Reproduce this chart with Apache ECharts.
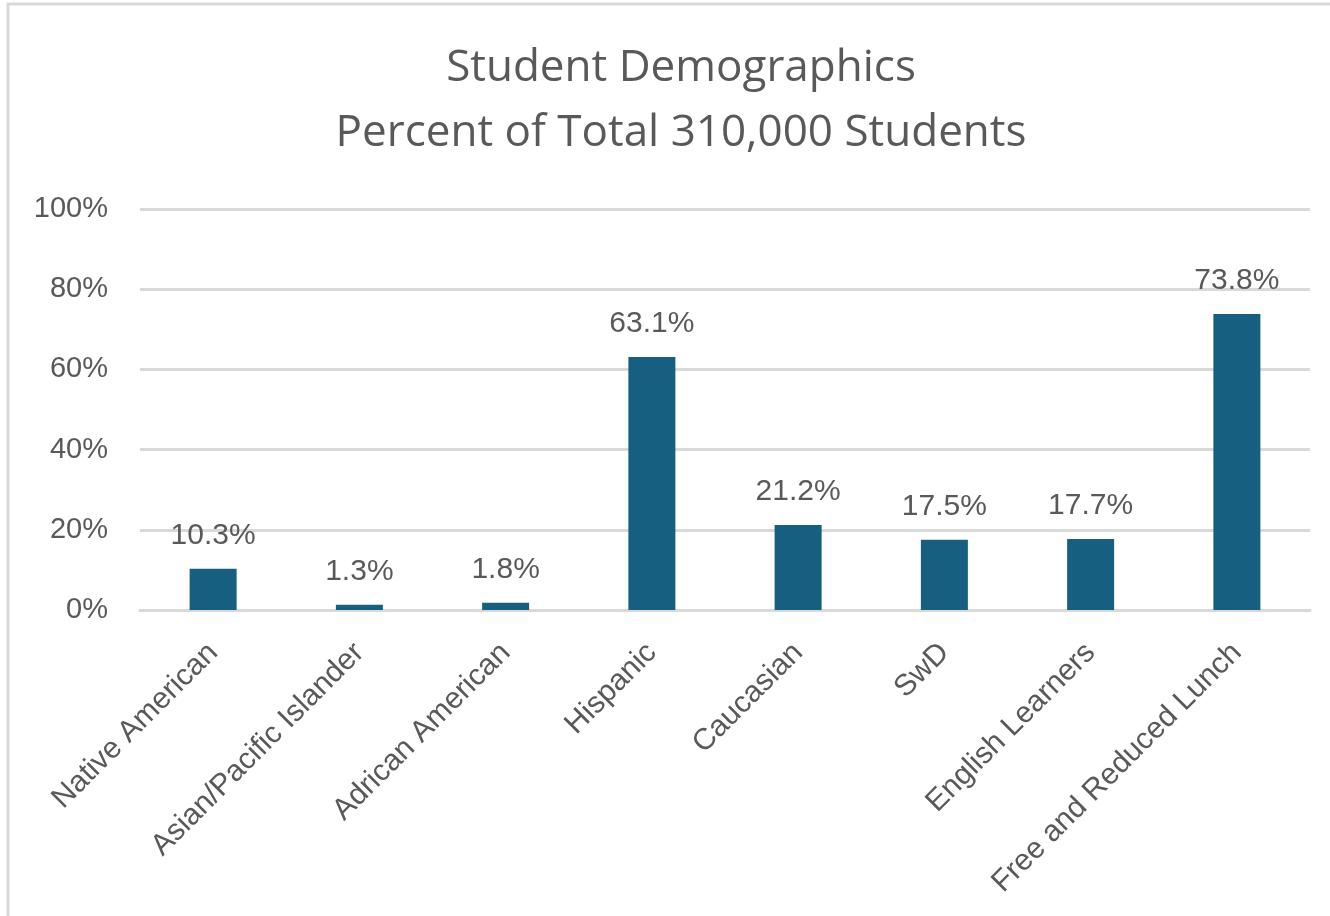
<!DOCTYPE html>
<html>
<head>
<meta charset="utf-8">
<script src="https://cdn.jsdelivr.net/npm/echarts@6/dist/echarts.min.js"></script>
<style>
html,body{margin:0;padding:0;background:#fff;}
#c{width:1330px;height:916px;}
</style>
</head>
<body>
<div id="c"></div>
<script>
var categories = ["Native American","Asian/Pacific Islander","Adrican American","Hispanic","Caucasian","SwD","English Learners","Free and Reduced Lunch"];
var values = [10.3, 1.3, 1.8, 63.1, 21.2, 17.5, 17.7, 73.8];
var titleLines = ["Student Demographics","Percent of Total 310,000 Students"];

var chart = echarts.init(document.getElementById('c'));
chart.setOption({
  animation:false,
  backgroundColor:'#fff',
  graphic:[{type:'rect',shape:{x:8,y:4,width:1400,height:1000},style:{fill:'none',stroke:'#d9d9d9',lineWidth:3},z:-1,silent:true}],
  title:{
    text:titleLines.join('\n'),
    left:676, top:31, textAlign:'center',
    textStyle:{fontFamily:'Open Sans',fontSize:44,fontWeight:'normal',color:'#595959',lineHeight:65}
  },
  grid:{left:140,right:20,top:209,bottom:306},
  xAxis:{
    type:'category',data:categories,
    axisLine:{lineStyle:{color:'#d9d9d9',width:3}},
    axisTick:{show:false},
    axisLabel:{rotate:45,interval:0,margin:38,fontFamily:'Liberation Sans',fontSize:30,color:'#595959'}
  },
  yAxis:{
    type:'value',min:0,max:100,interval:20,
    axisLine:{show:false},axisTick:{show:false},
    splitLine:{lineStyle:{color:'#d9d9d9',width:3}},
    axisLabel:{formatter:'{value}%',margin:32,fontFamily:'Liberation Sans',fontSize:29,color:'#595959'}
  },
  series:[{
    type:'bar',data:values,barWidth:47,
    itemStyle:{color:'#175f80'},
    label:{show:true,position:'top',distance:18,formatter:function(p){return p.value.toFixed(1)+'%';},fontFamily:'Liberation Sans',fontSize:30,color:'#595959'}
  }]
});
</script>
</body>
</html>
